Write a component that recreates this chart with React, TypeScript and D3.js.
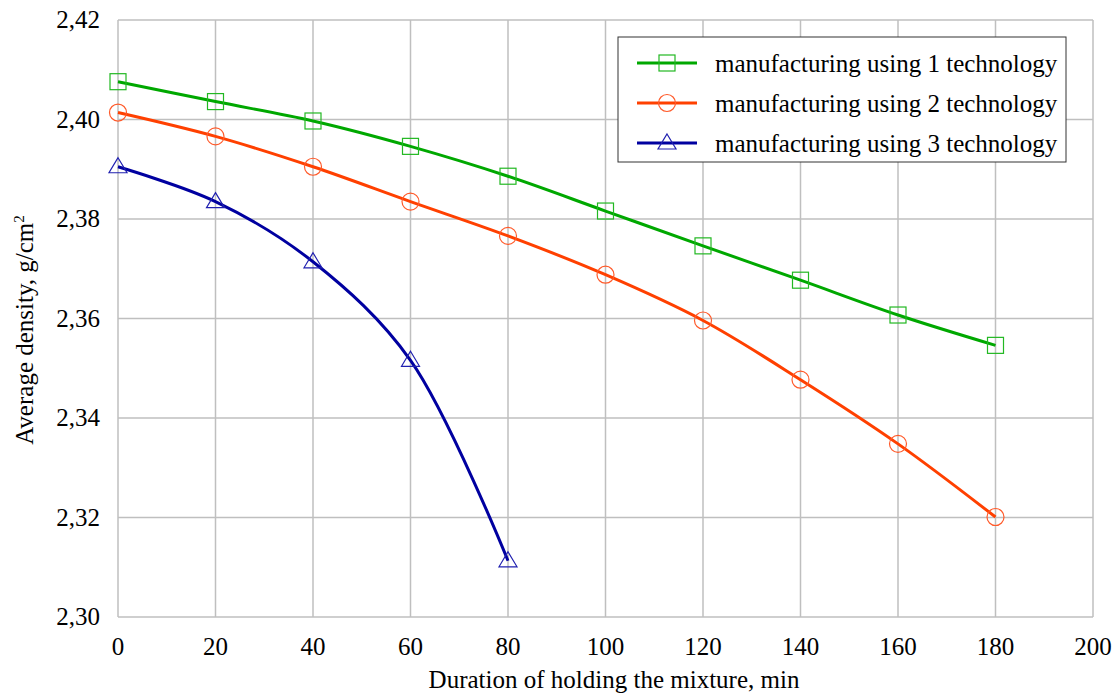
import React from "react"
import * as d3 from "d3"

const minutes = [0, 20, 40, 60, 80, 100, 120, 140, 160, 180]
const tech1 = [2.4076, 2.4036, 2.3997, 2.3946, 2.3886, 2.3816, 2.3746, 2.3677, 2.3607, 2.3546]
const tech2 = [2.4014, 2.3966, 2.3905, 2.3835, 2.3766, 2.3688, 2.3596, 2.3477, 2.3348, 2.3201]
const tech3 = [2.3905, 2.3835, 2.3714, 2.3516, 2.3113]
const xTicks = [0, 20, 40, 60, 80, 100, 120, 140, 160, 180, 200]
const yTicks = [2.3, 2.32, 2.34, 2.36, 2.38, 2.4, 2.42]
const seriesNames = [
  "manufacturing using 1 technology",
  "manufacturing using 2 technology",
  "manufacturing using 3 technology",
]

const W = 1118
const H = 694
const FONT = "Liberation Serif"
const GRID = "#bfbfbf"

const x = d3.scaleLinear().domain([0, 200]).range([118, 1093])
const y = d3.scaleLinear().domain([2.3, 2.42]).range([617, 20])

const line = d3
  .line<number>()
  .x((_, i) => x(minutes[i]))
  .y((d) => y(d))
  .curve(d3.curveCatmullRom.alpha(0.5))

const series = [
  { name: seriesNames[0], values: tech1, line: "#00a800", mark: "#22b822", shape: "square" },
  { name: seriesNames[1], values: tech2, line: "#ff4000", mark: "#ff5a2a", shape: "circle" },
  { name: seriesNames[2], values: tech3, line: "#0000a0", mark: "#2020b0", shape: "triangle" },
]

const Marker = ({ shape, cx, cy, color }: { shape: string; cx: number; cy: number; color: string }) => {
  if (shape === "square")
    return <rect x={cx - 8} y={cy - 8} width={16} height={16} fill="none" stroke={color} strokeWidth={1.2} />
  if (shape === "circle")
    return <circle cx={cx} cy={cy} r={8.5} fill="none" stroke={color} strokeWidth={1.2} />
  return (
    <path
      d={`M${cx},${cy - 9}L${cx + 9},${cy + 6}L${cx - 9},${cy + 6}Z`}
      fill="none"
      stroke={color}
      strokeWidth={1.2}
    />
  )
}

const T = (props: any) => <text fontFamily={FONT} fontSize={25} {...props} />

const App = () => {
  return (
    <svg width={W} height={H} style={{ position: "absolute", left: 0, top: 0, background: "white" }}>
      {/* grid */}
      {xTicks.map((t) => (
        <line key={"gx" + t} x1={x(t)} x2={x(t)} y1={y(2.3)} y2={y(2.42)} stroke={GRID} strokeWidth={1.5} />
      ))}
      {yTicks.map((t) => (
        <line key={"gy" + t} x1={x(0)} x2={x(200)} y1={y(t)} y2={y(t)} stroke={GRID} strokeWidth={1.5} />
      ))}

      {/* tick labels */}
      {xTicks.map((t) => (
        <T key={"tx" + t} x={x(t)} y={655} textAnchor="middle">
          {t}
        </T>
      ))}
      {yTicks.map((t) => (
        <T key={"ty" + t} x={100} y={y(t) + 8} textAnchor="end">
          {t.toFixed(2).replace(".", ",")}
        </T>
      ))}

      {/* axis titles */}
      <T x={614} y={688} textAnchor="middle">
        Duration of holding the mixture, min
      </T>
      <T transform="translate(33, 330) rotate(-90)" textAnchor="middle">
        Average density, g/cm
        <tspan dy={-9} fontSize={15}>
          2
        </tspan>
      </T>

      {/* series */}
      {series.map((s) => (
        <g key={s.name}>
          <path d={line(s.values) || ""} fill="none" stroke={s.line} strokeWidth={3} />
          {s.values.map((v, i) => (
            <Marker key={i} shape={s.shape} cx={x(minutes[i])} cy={y(v)} color={s.mark} />
          ))}
        </g>
      ))}

      {/* legend */}
      <rect x={618} y={37} width={448} height={125} fill="white" stroke="#333" strokeWidth={1} />
      {series.map((s, i) => {
        const cy = 63 + i * 40
        return (
          <g key={"lg" + i}>
            <line x1={637} x2={697} y1={cy} y2={cy} stroke={s.line} strokeWidth={3} />
            <Marker shape={s.shape} cx={667} cy={cy} color={s.mark} />
            <T x={715} y={cy + 8.5}>
              {s.name}
            </T>
          </g>
        )
      })}
    </svg>
  )
}

export default App
